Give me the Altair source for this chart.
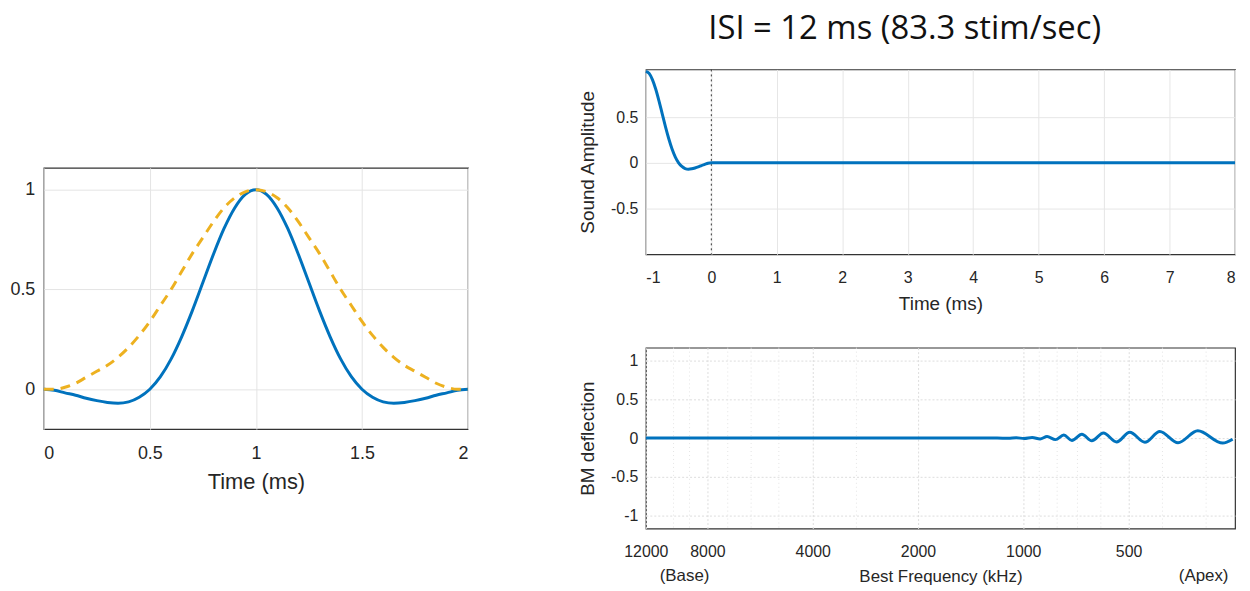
import altair as alt
import pandas as pd

# ---------------- Left panel: click waveform and its envelope ----------------
t_left = [round(0.05 * i, 2) for i in range(41)]
click_wave = [0.0, -0.005, -0.018, -0.030, -0.045, -0.057, -0.066, -0.070, -0.063, -0.040,
              0.0, 0.063, 0.151, 0.263, 0.393, 0.535, 0.677, 0.806, 0.909, 0.977,
              1.0,
              0.977, 0.909, 0.806, 0.677, 0.535, 0.393, 0.263, 0.151, 0.063, 0.0,
              -0.040, -0.063, -0.070, -0.066, -0.057, -0.045, -0.030, -0.018, -0.005, 0.0]
envelope = [0.0, 0.0, 0.01, 0.03, 0.06, 0.09, 0.12, 0.16, 0.21, 0.27,
            0.34, 0.42, 0.50, 0.59, 0.68, 0.76, 0.84, 0.91, 0.96, 0.99,
            1.0,
            0.99, 0.96, 0.91, 0.84, 0.76, 0.68, 0.59, 0.50, 0.42, 0.34,
            0.27, 0.21, 0.16, 0.12, 0.09, 0.06, 0.03, 0.01, 0.0, 0.0]
left_ticks_x = [0, 0.5, 1, 1.5, 2]
left_ticks_y = [0, 0.5, 1]

# ---------------- Right top: sound amplitude vs time ----------------
t_sound = [-1.0, -0.95, -0.9, -0.85, -0.8, -0.75, -0.7, -0.65, -0.6, -0.55, -0.5,
           -0.45, -0.4, -0.35, -0.3, -0.25, -0.2, -0.15, -0.1, -0.05, 0.0, 8.0]
sound_amp = [1.0, 0.977, 0.909, 0.806, 0.677, 0.535, 0.393, 0.263, 0.151, 0.063, 0.0,
             -0.040, -0.063, -0.070, -0.066, -0.057, -0.045, -0.030, -0.018, -0.005, 0.0, 0.0]
sound_ticks_x = [-1, 0, 1, 2, 3, 4, 5, 6, 7, 8]
sound_ticks_y = [-0.5, 0, 0.5]
onset_time = [0]

# ---------------- Right bottom: BM deflection vs best frequency ----------------
best_freq = [12000, 1188, 1103, 1047, 994, 943, 895, 855, 809, 766, 726, 680, 637,
             590, 541, 496, 449, 407, 361, 317, 269, 252]
bm_defl = [0.0, 0.0, -0.003, 0.004, -0.005, 0.008, -0.012, 0.02, -0.02, 0.04, -0.03,
           0.05, -0.035, 0.065, -0.05, 0.075, -0.055, 0.085, -0.06, 0.095, -0.065, -0.015]
freq_ticks = [12000, 8000, 4000, 2000, 1000, 500]
freq_minor = [10000, 9000, 7000, 6000, 5000, 3000, 900, 800, 700, 600, 400, 300]
bm_ticks_y = [-1, -0.5, 0, 0.5, 1]
end_labels = ["(Base)", "(Apex)"]
end_label_freq = [9300, 305]

BLUE = "#0072BD"
ORANGE = "#EDB120"
TXT = "#262626"
FONT = "Liberation Sans"
LBL = "'' + datum.value"

# ---- left chart
left_df = pd.DataFrame({"t": t_left, "click": click_wave, "env": envelope})
lx = alt.X("t:Q", scale=alt.Scale(domain=[0, 2], nice=False, zero=False),
           axis=alt.Axis(values=left_ticks_x, title="Time (ms)", labelExpr=LBL,
                         labelFontSize=18, titleFontSize=22, labelPadding=16,
                         titlePadding=9, gridColor="#e4e4e4"))
ly_axis = alt.Axis(values=left_ticks_y, title=None, labelExpr=LBL, labelFontSize=18,
                   labelPadding=9, gridColor="#e4e4e4")
left_base = alt.Chart(left_df)
left_blue = left_base.mark_line(color=BLUE, strokeWidth=3, interpolate="monotone").encode(
    x=lx, y=alt.Y("click:Q", scale=alt.Scale(domain=[-0.2, 1.11], nice=False, zero=False), axis=ly_axis))
left_orange = left_base.mark_line(color=ORANGE, strokeWidth=3, strokeDash=[10, 7],
                                  interpolate="monotone").encode(
    x=alt.X("t:Q"), y=alt.Y("env:Q"))
left_plot = alt.layer(left_blue, left_orange).properties(width=427, height=263)

spacer = alt.Chart(pd.DataFrame({"a": [0]})).mark_point(opacity=0).encode(
    x=alt.value(0), y=alt.value(0)
).properties(width=427, height=97, view=alt.ViewBackground(stroke="transparent"))
left = alt.vconcat(spacer, left_plot, spacing=0)

# ---- right top chart
sound_df = pd.DataFrame({"t": t_sound, "amp": sound_amp})
onset_df = pd.DataFrame({"t": onset_time})
sx = alt.X("t:Q", scale=alt.Scale(domain=[-1, 8], nice=False, zero=False),
           axis=alt.Axis(values=sound_ticks_x, title="Time (ms)", labelExpr=LBL,
                         labelFontSize=16, titleFontSize=19, labelPadding=15,
                         titlePadding=10, gridColor="#e6e6e6"))
sy = alt.Y("amp:Q", scale=alt.Scale(domain=[-1, 1.02], nice=False, zero=False),
           axis=alt.Axis(values=sound_ticks_y, title="Sound Amplitude", labelExpr=LBL,
                         labelFontSize=16, titleFontSize=19, labelPadding=8,
                         titlePadding=13, gridColor="#e6e6e6"))
sound_line = alt.Chart(sound_df).mark_line(color=BLUE, strokeWidth=3, interpolate="monotone").encode(x=sx, y=sy)
onset_rule = alt.Chart(onset_df).mark_rule(color="#333333", strokeWidth=1, strokeDash=[2, 3]).encode(x="t:Q")
right_top = alt.layer(onset_rule, sound_line).properties(width=593, height=186)

# ---- right bottom chart
bm_df = pd.DataFrame({"f": best_freq, "d": bm_defl})
minor_df = pd.DataFrame({"f": freq_minor})
lab_df = pd.DataFrame({"f": end_label_freq, "txt": end_labels})
fx = alt.X("f:Q", scale=alt.Scale(type="log", domain=[12000, 248], nice=False),
           axis=alt.Axis(values=freq_ticks, title="Best Frequency (kHz)", labelExpr=LBL,
                         labelFontSize=16, titleFontSize=17, labelPadding=15,
                         titlePadding=9, gridColor="#dddddd", gridDash=[2, 2],
                         labelOverlap=False, labelFlush=False))
fy = alt.Y("d:Q", scale=alt.Scale(domain=[-1.17, 1.17], nice=False, zero=False),
           axis=alt.Axis(values=bm_ticks_y, title="BM deflection", labelExpr=LBL,
                         labelFontSize=16, titleFontSize=19, labelPadding=8,
                         titlePadding=13, gridColor="#dddddd", gridDash=[2, 2]))
minor_rules = alt.Chart(minor_df).mark_rule(color="#e4e4e4", strokeWidth=1, strokeDash=[1, 3]).encode(
    x=alt.X("f:Q"))
bm_line = alt.Chart(bm_df).mark_line(color=BLUE, strokeWidth=3, interpolate="monotone").encode(x=fx, y=fy)
end_text = alt.Chart(lab_df).mark_text(font=FONT, fontSize=17, color=TXT, baseline="middle").encode(
    x=alt.X("f:Q"), y=alt.value(230), text="txt:N")
right_bottom = alt.layer(minor_rules, bm_line, end_text).properties(width=593, height=182)

right = alt.vconcat(right_top, right_bottom, spacing=31)

chart = alt.hconcat(left, right, spacing=103).properties(
    padding={"left": 1, "top": 3, "right": 0, "bottom": 0},
    title=alt.TitleParams("ISI = 12 ms (83.3 stim/sec)", font="Open Sans", fontSize=33,
                          fontWeight="normal", color="#111111", anchor="middle",
                          offset=19, dx=281)
).configure_axis(
    labelFont=FONT, titleFont=FONT, labelColor=TXT, titleColor=TXT,
    titleFontWeight="normal", domain=False, ticks=False, grid=True
).configure_view(stroke="#333333", strokeWidth=1.2)

chart.save("out.html", embed_options={"renderer": "svg", "actions": False})
